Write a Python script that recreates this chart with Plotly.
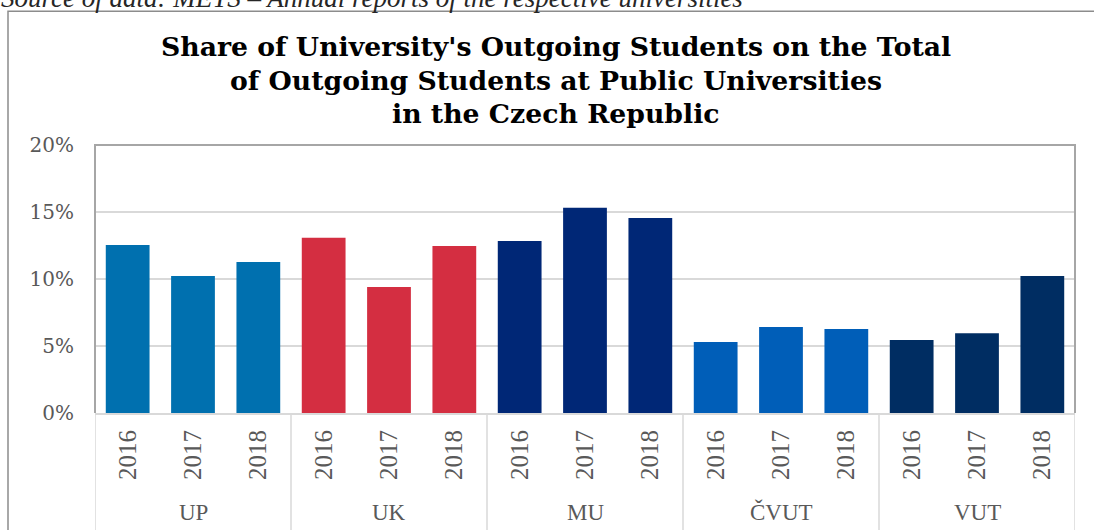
import plotly.graph_objects as go

universities = ["UP", "UK", "MU", "ČVUT", "VUT"]
years = ["2016", "2017", "2018"]
colors = ["#0070AF", "#D42E41", "#002776", "#005EB8", "#002D62"]
shares = {
    "UP":   [12.54, 10.22, 11.27],
    "UK":   [13.07, 9.40, 12.47],
    "MU":   [12.84, 15.31, 14.56],
    "ČVUT": [5.29, 6.41, 6.26],
    "VUT":  [5.44, 5.96, 10.22],
}
y_ticks = [0, 5, 10, 15, 20]
title_lines = [
    "Share of University's Outgoing Students on the Total",
    "of Outgoing Students at Public Universities",
    "in the Czech Republic",
]
source_text = "Source of data: MEYS – Annual reports of the respective universities"

# geometry (pixels)
W, H = 1094, 530
L, R = 95, 1075
T, B = 145, 412.7
PH = B - T
PW = R - L


def py(p):
    return (B - p) / PH


def px(p):
    return (p - L) / PW


fig = go.Figure()
cats = []
for u, c in zip(universities, colors):
    xs = [f"{u} {y}" for y in years]
    cats += xs
    fig.add_trace(go.Bar(x=xs, y=shares[u], marker=dict(color=c, line=dict(width=0)),
                         name=u, showlegend=False))

annotations = []
# title
for line, yc in zip(title_lines, [47, 81, 114]):
    annotations.append(dict(text=f"<b>{line}</b>", xref="paper", yref="paper",
                            x=px(556), y=py(yc), xanchor="center", yanchor="middle",
                            showarrow=False,
                            font=dict(family="DejaVu Serif", size=26.7, color="#000000")))
# source text (cut at the top)
annotations.append(dict(text=f"<i>{source_text}</i>", xref="paper", yref="paper",
                        x=px(-1), y=py(-2), xanchor="left", yanchor="middle",
                        showarrow=False,
                        font=dict(family="Liberation Serif", size=27, color="#262626")))
# group labels
for i, u in enumerate(universities):
    annotations.append(dict(text=u, xref="x", yref="paper", x=3 * i + 1, y=py(512),
                            xanchor="center", yanchor="middle", showarrow=False,
                            font=dict(family="Liberation Serif", size=23, color="#595959")))

shapes = []
# dividers
for k in range(6):
    shapes.append(dict(type="line", xref="x", yref="paper", x0=3 * k - 0.5, x1=3 * k - 0.5,
                       y0=0, y1=-0.6, line=dict(color="#d9d9d9", width=1.5)))
# plot frame (left, top, right)
shapes.append(dict(type="path", xref="paper", yref="paper",
                   path="M 0 0 L 0 1 L 1 1 L 1 0", line=dict(color="#a6a6a6", width=2)))
# outer chart border
shapes.append(dict(type="path", xref="paper", yref="paper",
                   path=f"M {px(8)} -0.6 L {px(8)} {py(11.5)} L 1.2 {py(11.5)}",
                   line=dict(color="#8c8c8c", width=1.5)))

fig.update_layout(
    width=W, height=H,
    margin=dict(l=L, r=W - R, t=T, b=H - B, autoexpand=False),
    plot_bgcolor="#ffffff", paper_bgcolor="#ffffff",
    bargap=0.33,
    annotations=annotations,
    shapes=shapes,
    xaxis=dict(type="category", categoryorder="array", categoryarray=cats,
               tickvals=cats, ticktext=[y for _ in universities for y in years],
               tickangle=-90, ticks="", ticklabelstandoff=5,
               tickfont=dict(family="Liberation Serif", size=25, color="#595959"),
               showline=True, linecolor="#d9d9d9", linewidth=2, showgrid=False,
               range=[-0.5, len(cats) - 0.5], fixedrange=True),
    yaxis=dict(range=[0, 20], tickvals=y_ticks, ticktext=[f"{v}%" for v in y_ticks],
               tickfont=dict(family="DejaVu Serif", size=20, color="#595959"),
               ticks="", ticklabelstandoff=20,
               showgrid=True, gridcolor="#d9d9d9", gridwidth=1.5,
               zeroline=False, showline=False, fixedrange=True),
)

fig.write_html("out.html", config={"displayModeBar": False},
               post_script="document.body.style.margin='0';document.body.style.overflow='hidden';")
